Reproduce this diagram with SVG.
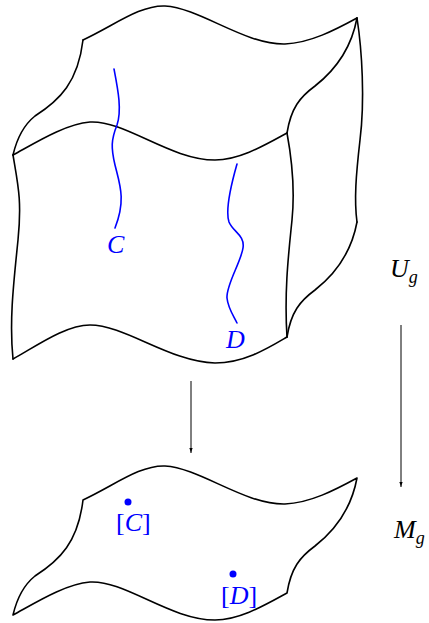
<svg xmlns="http://www.w3.org/2000/svg" width="429" height="623" viewBox="0 0 429 623">
<style>
.edge{fill:none;stroke:#000;stroke-width:1.6;stroke-linejoin:round;stroke-linecap:round}
.curve{fill:none;stroke:#0000ff;stroke-width:1.6;stroke-linecap:round}
.arr{fill:none;stroke:#000;stroke-width:1}
.lbl{font-family:"Liberation Serif",serif;font-size:26px;font-style:italic}
.blue{fill:#0000ff}
.up{font-style:normal}
</style>
<defs>
<marker id="ah" markerWidth="10" markerHeight="12" viewBox="-5 -10 10 12" refX="0" refY="0" orient="auto-start-reverse" markerUnits="userSpaceOnUse">
<path d="M-3.5,-9 Q-1,-4 0,0 Q1,-4 3.5,-9 Q0,-5.5 -3.5,-9 Z" fill="#000" transform="rotate(-90)"/>
</marker>
</defs>
<g id="Ug-space">
<path class="edge" d="M83,40 C115,25 140,5 165,6 C200,8 245,45 285,44 C310,43 335,30 357,18"/>
<path class="edge" d="M357,18 C352,45 338,68 315,86 C300,97 291,108 287,133"/>
<path class="edge" d="M287,133 C265,145 240,160 215,160 C170,160 125,120 90,122 C65,124 35,143 13,155"/>
<path class="edge" d="M13,155 C17,138 25,124 35,116 C60,100 78,82 83,40"/>
<path class="edge" d="M13,155 C18,185 22,200 18,240 C14,280 9,320 13,359"/>
<path class="edge" d="M13,359 C35,347 65,325 90,325 C125,325 170,362 215,363 C245,363 270,347 287,337"/>
<path class="edge" d="M287,133 C292,160 295,190 292,220 C289,250 284,290 287,337"/>
<path class="edge" d="M357,18 C362,50 365,100 360,140 C356,175 354,200 357,222"/>
<path class="edge" d="M357,222 C352,249 338,272 315,290 C300,301 291,312 287,337"/>
</g>
<g id="curve-C">
<path class="curve" d="M114,69 C118,90 122,110 117,125 C111,140 111,148 115,165 C120,185 126,200 115,228"/>
<text class="lbl blue" x="107" y="253">C</text>
</g>
<g id="curve-D">
<path class="curve" d="M237,164 C231,185 225,210 229,222 C233,232 245,235 243,248 C241,262 226,285 227,298 C228,308 233,315 237,323"/>
<text class="lbl blue" x="226" y="348">D</text>
</g>
<g id="Mg-space">
<path class="edge" d="M83,500 C115,485 140,465 165,466 C200,468 245,505 285,504 C310,503 335,490 357,478 C352,505 338,528 315,546 C300,557 291,568 287,593 C265,605 240,620 215,620 C170,620 125,580 90,582 C65,584 35,603 13,615 C17,598 25,584 35,576 C60,560 78,542 83,500 Z"/>
</g>
<g id="point-C">
<circle class="blue" cx="128" cy="502" r="3.5"/>
<text class="lbl blue" x="116" y="531"><tspan class="up">[</tspan>C<tspan class="up">]</tspan></text>
</g>
<g id="point-D">
<circle class="blue" cx="233" cy="574" r="3.5"/>
<text class="lbl blue" x="221" y="604"><tspan class="up">[</tspan>D<tspan class="up">]</tspan></text>
</g>
<g id="label-Ug">
<text class="lbl" x="390" y="277">U<tspan font-size="18" dy="6">g</tspan></text>
</g>
<g id="label-Mg">
<text class="lbl" x="394" y="538">M<tspan font-size="18" dy="6">g</tspan></text>
</g>
<g id="connectors">
<path class="arr" d="M191,381 L191,453" marker-end="url(#ah)"/>
<path class="arr" d="M401,325 L401,487" marker-end="url(#ah)"/>
</g>
</svg>
